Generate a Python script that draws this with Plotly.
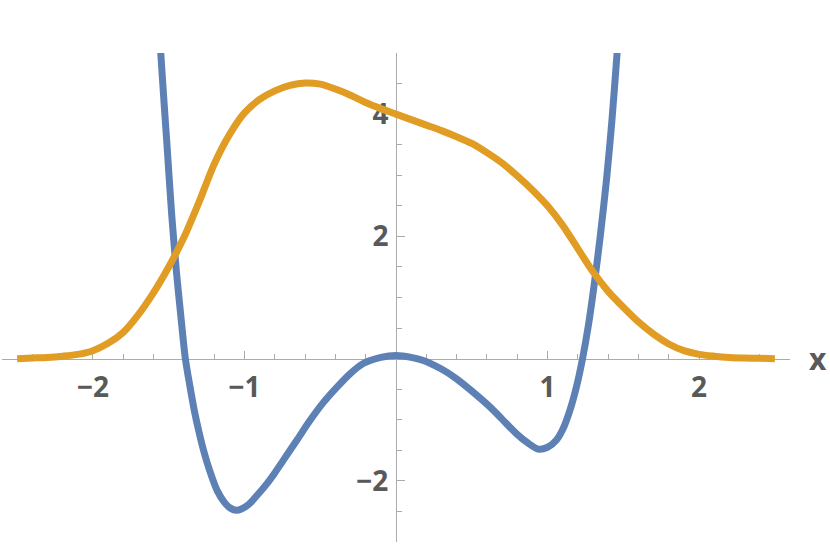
import plotly.graph_objects as go

# ---- data ----
blue_x = [-1.575, -1.555, -1.535, -1.51, -1.48, -1.45, -1.42, -1.39, -1.36, -1.33,
          -1.30, -1.27, -1.23, -1.18, -1.13, -1.09, -1.055, -1.02, -0.97, -0.918,
          -0.85, -0.80, -0.743, -0.65, -0.567, -0.48, -0.391, -0.30, -0.216, -0.10,
          0.0, 0.10, 0.18, 0.30, 0.40, 0.50, 0.62, 0.70, 0.796, 0.87,
          0.938, 1.00, 1.059, 1.10, 1.147, 1.19, 1.231, 1.27, 1.31, 1.35,
          1.39, 1.425, 1.459, 1.48]
blue_y = [5.9, 5.1, 4.35, 3.45, 2.35, 1.45, 0.7, 0.0, -0.45, -0.86,
          -1.20, -1.50, -1.83, -2.16, -2.36, -2.45, -2.48, -2.46, -2.38, -2.24,
          -2.04, -1.87, -1.66, -1.32, -1.01, -0.72, -0.47, -0.24, -0.08, 0.02,
          0.05, 0.02, -0.03, -0.17, -0.33, -0.53, -0.79, -0.99, -1.23, -1.38,
          -1.48, -1.45, -1.33, -1.16, -0.85, -0.47, 0.0, 0.55, 1.25, 2.05,
          2.95, 3.9, 5.0, 5.7]

orange_x = [-2.5, -2.4, -2.3, -2.2, -2.1, -2.0, -1.9, -1.8, -1.7, -1.6,
            -1.5, -1.4, -1.3, -1.2, -1.1, -1.0, -0.9, -0.8, -0.7, -0.6,
            -0.5, -0.4, -0.3, -0.2, -0.1, 0.0, 0.1, 0.2, 0.3, 0.4,
            0.5, 0.6, 0.7, 0.8, 0.9, 1.0, 1.1, 1.2, 1.3, 1.4,
            1.5, 1.6, 1.7, 1.8, 1.9, 2.0, 2.1, 2.2, 2.3, 2.4, 2.5]
orange_y = [0.0, 0.01, 0.02, 0.04, 0.07, 0.13, 0.25, 0.43, 0.72, 1.08,
            1.50, 1.98, 2.56, 3.18, 3.66, 4.02, 4.24, 4.38, 4.47, 4.51,
            4.49, 4.41, 4.31, 4.19, 4.09, 4.0, 3.91, 3.82, 3.73, 3.63,
            3.52, 3.37, 3.20, 2.99, 2.76, 2.50, 2.18, 1.80, 1.42, 1.10,
            0.84, 0.60, 0.40, 0.24, 0.13, 0.07, 0.04, 0.02, 0.01, 0.005, 0.0]

x_tickvals = [-2, -1, 1, 2]
x_ticktext = ["\u22122", "\u22121", "1", "2"]
x_minor = [-2.4, -2.2, -1.8, -1.6, -1.4, -1.2, -0.8, -0.6, -0.4, -0.2,
           0.2, 0.4, 0.6, 0.8, 1.2, 1.4, 1.6, 1.8, 2.2, 2.4]
y_tickvals = [-2, 2, 4]
y_ticktext = ["\u22122", "2", "4"]
y_minor = [-3, -2.5, -1.5, -1, -0.5, 0.5, 1, 1.5, 2.5, 3, 3.5, 4.5, 5]

BLUE = "#5E81B5"
ORANGE = "#E19C24"
AXIS = "#ababab"
TXT = "#595959"
FONT = "Open Sans"

fig = go.Figure()
fig.add_trace(go.Scatter(x=blue_x, y=blue_y, mode="lines",
                         line=dict(color=BLUE, width=7, shape="spline", smoothing=0.8),
                         hoverinfo="skip"))
fig.add_trace(go.Scatter(x=orange_x, y=orange_y, mode="lines",
                         line=dict(color=ORANGE, width=7, shape="spline", smoothing=0.8),
                         hoverinfo="skip"))

fig.update_layout(
    width=830, height=545,
    margin=dict(l=2, r=40, t=53, b=3, autoexpand=False),
    paper_bgcolor="white", plot_bgcolor="white",
    showlegend=False,
    font=dict(family=FONT, color=TXT),
    xaxis=dict(
        range=[-2.6, 2.6], anchor="free", position=0.375, automargin=False,
        showgrid=False, zeroline=False,
        showline=True, linecolor=AXIS, linewidth=1,
        tickmode="array", tickvals=x_tickvals, ticktext=x_ticktext,
        ticks="inside", ticklen=8, tickwidth=1, tickcolor=AXIS,
        tickfont=dict(family=FONT, size=28, color=TXT, weight="bold"),
        ticklabelstandoff=4,
        minor=dict(tickmode="array", tickvals=x_minor, ticks="inside",
                   ticklen=5, tickwidth=1, tickcolor=AXIS),
        layer="below traces",
    ),
    yaxis=dict(
        range=[-3.0, 5.0], anchor="free", position=0.5, automargin=False,
        showgrid=False, zeroline=False,
        showline=True, linecolor=AXIS, linewidth=1,
        tickmode="array", tickvals=y_tickvals, ticktext=y_ticktext,
        ticks="inside", ticklen=8, tickwidth=1, tickcolor=AXIS,
        tickfont=dict(family=FONT, size=28, color=TXT, weight="bold"),
        ticklabelstandoff=2,
        minor=dict(tickmode="array", tickvals=y_minor, ticks="inside",
                   ticklen=5, tickwidth=1, tickcolor=AXIS),
        layer="below traces",
    ),
    annotations=[dict(text="x", xref="paper", yref="y", x=1.0355, y=0.0,
                      xanchor="center", yanchor="middle", showarrow=False,
                      font=dict(family=FONT, size=30, color=TXT, weight="bold"))],
)

fig.write_html("out.html",
               config={"displayModeBar": False},
               post_script="document.body.style.margin='0px';document.body.style.padding='0px';")
